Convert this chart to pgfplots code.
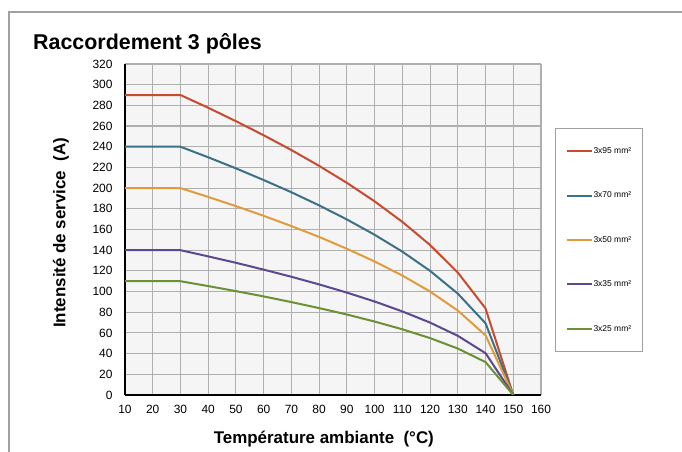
\documentclass[border=0pt]{standalone}
\usepackage{pgfplots}
\pgfplotsset{compat=1.18}
\usepackage{fontspec}
\setmainfont{Liberation Sans}
\definecolor{cred}{RGB}{200,75,45}
\definecolor{cblue}{RGB}{60,112,135}
\definecolor{corange}{RGB}{225,155,60}
\definecolor{cpurple}{RGB}{92,72,145}
\definecolor{cgreen}{RGB}{108,145,52}
\definecolor{gridc}{RGB}{175,175,175}
\definecolor{bgc}{RGB}{245,245,245}
\definecolor{framec}{RGB}{160,162,160}
\begin{document}
\begin{tikzpicture}[x=1bp,y=1bp]
\path[use as bounding box] (0,0) rectangle (682,452);
\draw[color=framec, line width=2bp] (9,0) -- (9,440) -- (682,440);
\node[anchor=base west, inner sep=0pt, font=\bfseries\fontsize{21.5}{25}\selectfont] at (33,402) {Raccordement 3 pôles};
\begin{axis}[
  at={(125bp,57bp)}, anchor=south west, scale only axis,
  width=416bp, height=331bp,
  xmin=10, xmax=160, ymin=0, ymax=320,
  xtick={10,20,...,160}, ytick={0,20,...,320},
  grid=major, grid style={color=gridc, line width=1.1bp},
  axis background/.style={fill=bgc},
  axis x line*=bottom, axis y line*=left,
  axis line style={black, line width=1.6bp, -},
  major tick length=0pt,
  tick label style={font=\fontsize{12}{14}\selectfont},
  /pgf/number format/assume math mode=true,
  xticklabel style={anchor=north, yshift=-7bp},
  yticklabel style={anchor=east, xshift=-9bp},
  xlabel={Température ambiante\ \ (°C)},
  ylabel={Intensité de service\ \ (A)},
  label style={font=\bfseries\fontsize{17}{20}\selectfont},
  xlabel style={at={(axis description cs:0.478,0)}, anchor=center, yshift=-44bp},
  ylabel style={at={(axis description cs:-0.1538,0.49)}, anchor=center},
  legend style={at={(axis description cs:1.0337,0.8066)}, anchor=north west,
    draw=framec, line width=1bp, fill=white,
    font=\fontsize{8.5}{10}\selectfont,
    inner xsep=10bp, inner ysep=18bp, row sep=35bp,
    nodes={inner sep=1bp}},
  legend cell align=left,
  legend image code/.code={\draw[#1, line width=2bp] (0bp,0bp) -- (25bp,0bp);},
  every axis plot/.append style={line width=2bp},
]
\addplot[cred] coordinates {(10,290) (30,290) (40,277.7) (50,264.7) (60,251.1) (70,236.8) (80,221.5) (90,205.1) (100,187.2) (110,167.4) (120,145) (130,118.4) (140,83.7) (150,0)};
\addplot[cblue] coordinates {(10,240) (30,240) (40,229.8) (50,219.1) (60,207.8) (70,196) (80,183.3) (90,169.7) (100,154.9) (110,138.6) (120,120) (130,98) (140,69.3) (150,0)};
\addplot[corange] coordinates {(10,200) (30,200) (40,191.5) (50,182.6) (60,173.2) (70,163.3) (80,152.8) (90,141.4) (100,129.1) (110,115.5) (120,100) (130,81.6) (140,57.7) (150,0)};
\addplot[cpurple] coordinates {(10,140) (30,140) (40,134) (50,127.8) (60,121.2) (70,114.3) (80,106.9) (90,99) (100,90.4) (110,80.8) (120,70) (130,57.2) (140,40.4) (150,0)};
\addplot[cgreen] coordinates {(10,110) (30,110) (40,105.3) (50,100.4) (60,95.3) (70,89.8) (80,84) (90,77.8) (100,71) (110,63.5) (120,55) (130,44.9) (140,31.8) (150,0)};
\legend{3x95 mm², 3x70 mm², 3x50 mm², 3x35 mm², 3x25 mm²}
\end{axis}
\end{tikzpicture}
\end{document}
